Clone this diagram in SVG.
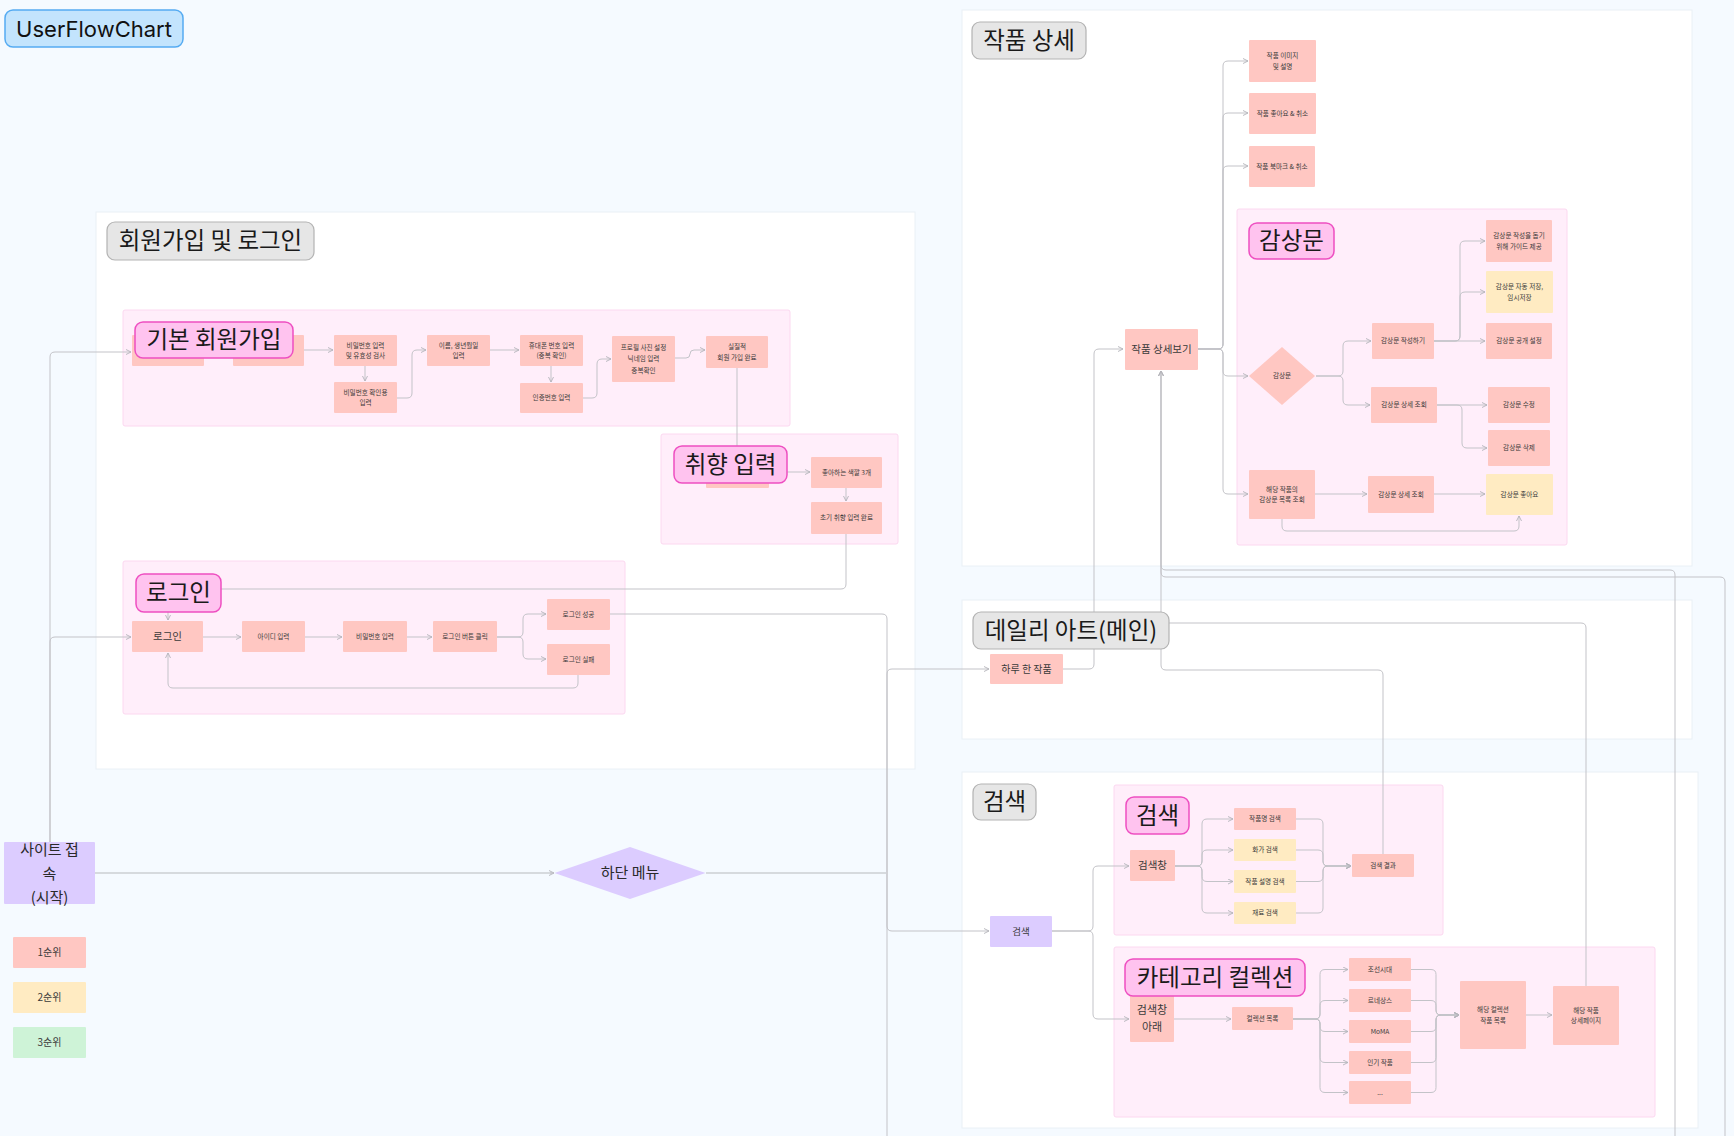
<svg xmlns="http://www.w3.org/2000/svg" width="1734" height="1136" viewBox="0 0 1734 1136">
<defs>
<style>
.bg{fill:#f5faff}
.panel{fill:#ffffff;stroke:#eaf0f6;stroke-width:1}
.sub{fill:#ffeefa;stroke:#fcd8f0;stroke-width:1}
.tb{fill:#e6e6e6;stroke:#b3b3b3;stroke-width:1.2}
.pb{fill:#ffc3ef;stroke:#ee4fc1;stroke-width:1.5}
.ub{fill:#c3e4fd;stroke:#55abf2;stroke-width:1.5}
.p1{fill:#ffc7c2}
.p2{fill:#ffebc2}
.p3{fill:#cef3d7}
.pu{fill:#dcccff}
text{font-family:"Noto Sans CJK KR","Noto Sans",sans-serif;fill:#3a3a3a;text-anchor:middle}
.s{font-size:6.6px}
.m{font-size:10.5px}
.l{font-size:15px;fill:#2a2a2a}
.h{font-size:23.5px;fill:#1a1a1a}
.c{fill:none;stroke:#c3c3c8;stroke-width:1;marker-end:url(#ar)}
.cn{fill:none;stroke:#c3c3c8;stroke-width:1}
.ck{fill:none;stroke:#d6dade;stroke-width:2}
</style>
<marker id="ar" viewBox="0 0 6 6" refX="5.5" refY="3" markerWidth="6" markerHeight="6" markerUnits="userSpaceOnUse" orient="auto"><path d="M0.5,0.5 L5.5,3 L0.5,5.5" fill="none" stroke="#b3b3b9" stroke-width="0.9"/></marker>
</defs>
<rect class="bg" x="0" y="0" width="1734" height="1136"/>

<g id="panels">
<rect class="panel" x="96" y="212" width="819" height="557"/>
<rect class="panel" x="962" y="10" width="730" height="556"/>
<rect class="panel" x="962" y="600" width="730" height="139"/>
<rect class="panel" x="962" y="772" width="736" height="356"/>
<rect class="sub" x="123" y="310" width="667" height="116" rx="2"/>
<rect class="sub" x="661" y="434" width="237" height="110" rx="2"/>
<rect class="sub" x="123" y="561" width="502" height="153" rx="2"/>
<rect class="sub" x="1237" y="209" width="330" height="336" rx="2"/>
<rect class="sub" x="1114" y="785" width="329" height="150" rx="2"/>
<rect class="sub" x="1114" y="947" width="541" height="170" rx="2"/>
</g>

<g id="connectors">
<path class="c" d="M50,842 V357 Q50,352 55,352 H131"/>
<path class="c" d="M50,842 V642 Q50,637 55,637 H131"/>
<path class="ck" d="M95,873 H552"/>
<path class="c" d="M550,873 H554"/>
<path class="ck" d="M706,873 H886"/>
<path class="c" d="M887,873 V674 Q887,669 892,669 H989"/>
<path class="c" d="M887,873 V926 Q887,931 892,931 H989"/>
<path class="cn" d="M610,614 H882 Q887,614 887,619 V1136"/>
<path class="c" d="M204,350 H232"/>
<path class="c" d="M304,350 H333"/>
<path class="c" d="M365,366 V381"/>
<path class="c" d="M397,398 H407 Q412,398 412,393 V355 Q412,350 417,350 H426"/>
<path class="c" d="M490,350 H519"/>
<path class="c" d="M551,366 V382"/>
<path class="c" d="M583,398 H592 Q597,398 597,393 V364 Q597,359 602,359 H611"/>
<path class="c" d="M675,358 H686 Q690,358 690,354 Q690,350 694,350 H705"/>
<path class="c" d="M737,368 V455"/>
<path class="c" d="M769,472 H810"/>
<path class="c" d="M846,488 V501"/>
<path class="c" d="M846,534 V584 Q846,589 841,589 H173 Q168,589 168,594 V620"/>
<path class="c" d="M203,637 H241"/>
<path class="c" d="M305,637 H342"/>
<path class="c" d="M407,637 H432"/>
<path class="c" d="M497,637 H518 Q523,637 523,632 V619 Q523,614 528,614 H546"/>
<path class="c" d="M497,637 H518 Q523,637 523,642 V654 Q523,659 528,659 H546"/>
<path class="c" d="M578,675 V683 Q578,688 573,688 H173 Q168,688 168,683 V653"/>
<path class="c" d="M1063,669 H1089 Q1094,669 1094,664 V354 Q1094,349 1099,349 H1123"/>
<path class="c" d="M1198,349 H1218 Q1223,349 1223,344 V66 Q1223,61 1228,61 H1248"/>
<path class="c" d="M1198,349 H1218 Q1223,349 1223,344 V118 Q1223,113 1228,113 H1248"/>
<path class="c" d="M1198,349 H1218 Q1223,349 1223,344 V171 Q1223,166 1228,166 H1248"/>
<path class="c" d="M1198,349 H1218 Q1223,349 1223,354 V371 Q1223,376 1228,376 H1248"/>
<path class="c" d="M1198,349 H1218 Q1223,349 1223,354 V489 Q1223,494 1228,494 H1248"/>
<path class="c" d="M1316,376 H1338 Q1343,376 1343,371 V346 Q1343,341 1348,341 H1371"/>
<path class="c" d="M1316,376 H1338 Q1343,376 1343,381 V400 Q1343,405 1348,405 H1370"/>
<path class="c" d="M1434,341 H1455 Q1460,341 1460,336 V246 Q1460,241 1465,241 H1485"/>
<path class="c" d="M1434,341 H1455 Q1460,341 1460,336 V297 Q1460,292 1465,292 H1485"/>
<path class="c" d="M1434,341 H1485"/>
<path class="c" d="M1437,405 H1487"/>
<path class="c" d="M1437,405 H1457 Q1462,405 1462,410 V443 Q1462,448 1467,448 H1487"/>
<path class="c" d="M1315,494 H1367"/>
<path class="c" d="M1434,494 H1485"/>
<path class="c" d="M1282,519 V526 Q1282,531 1287,531 H1514 Q1519,531 1519,526 V516"/>
<path class="c" d="M1052,931 H1088 Q1093,931 1093,926 V871 Q1093,866 1098,866 H1129"/>
<path class="c" d="M1052,931 H1088 Q1093,931 1093,936 V1014 Q1093,1019 1098,1019 H1129"/>
<path class="c" d="M1175,866 H1197 Q1202,866 1202,861 V824 Q1202,819 1207,819 H1233"/>
<path class="c" d="M1175,866 H1197 Q1202,866 1202,861 V855 Q1202,850 1207,850 H1233"/>
<path class="c" d="M1175,866 H1197 Q1202,866 1202,871 V876.5 Q1202,881.5 1207,881.5 H1233"/>
<path class="c" d="M1175,866 H1197 Q1202,866 1202,871 V908 Q1202,913 1207,913 H1233"/>
<path class="c" d="M1296,819 H1318 Q1323,819 1323,824 V861 Q1323,866 1328,866 H1351"/>
<path class="c" d="M1296,850 H1318 Q1323,850 1323,855 V861 Q1323,866 1328,866 H1351"/>
<path class="c" d="M1296,881.5 H1318 Q1323,881.5 1323,876.5 V871 Q1323,866 1328,866 H1351"/>
<path class="c" d="M1296,913 H1318 Q1323,913 1323,908 V871 Q1323,866 1328,866 H1351"/>
<path class="c" d="M1383,854 V675 Q1383,670 1378,670 H1166 Q1161,670 1161,665 V371"/>
<path class="c" d="M1675,1136 V575 Q1675,570 1670,570 H1166 Q1161,570 1161,565 V371"/>
<path class="c" d="M1725,1136 V582 Q1725,577 1720,577 H1166 Q1161,577 1161,572 V371"/>
<path class="cn" d="M1586,986 V628 Q1586,623 1581,623 H1150"/>
<path class="c" d="M1174,1019 H1231"/>
<path class="c" d="M1293,1019 H1315 Q1320,1019 1320,1014 V974.5 Q1320,969.5 1325,969.5 H1348"/>
<path class="c" d="M1293,1019 H1315 Q1320,1019 1320,1014 V1005.5 Q1320,1000.5 1325,1000.5 H1348"/>
<path class="c" d="M1293,1019 H1315 Q1320,1019 1320,1024 V1026.5 Q1320,1031.5 1325,1031.5 H1348"/>
<path class="c" d="M1293,1019 H1315 Q1320,1019 1320,1024 V1057.5 Q1320,1062.5 1325,1062.5 H1348"/>
<path class="c" d="M1293,1019 H1315 Q1320,1019 1320,1024 V1087.5 Q1320,1092.5 1325,1092.5 H1348"/>
<path class="c" d="M1411,969.5 H1431 Q1436,969.5 1436,974.5 V1010 Q1436,1015 1441,1015 H1459"/>
<path class="c" d="M1411,1000.5 H1431 Q1436,1000.5 1436,1005.5 V1010 Q1436,1015 1441,1015 H1459"/>
<path class="c" d="M1411,1031.5 H1431 Q1436,1031.5 1436,1026.5 V1020 Q1436,1015 1441,1015 H1459"/>
<path class="c" d="M1411,1062.5 H1431 Q1436,1062.5 1436,1057.5 V1020 Q1436,1015 1441,1015 H1459"/>
<path class="c" d="M1411,1092.5 H1431 Q1436,1092.5 1436,1087.5 V1020 Q1436,1015 1441,1015 H1459"/>
<path class="c" d="M1526,1015 H1552"/>
</g>

<g id="n_s1"><rect class="p1" x="132" y="335" width="72" height="31" rx="1"/></g>
<g id="n_s2"><rect class="p1" x="233" y="335" width="71" height="31" rx="1"/></g>
<g id="n_pw"><rect class="p1" x="334" y="335" width="63" height="31" rx="1"/><text class="s" x="365.5" y="347.5">비밀번호 입력<tspan x="365.5" dy="10.5">및 유효성 검사</tspan></text></g>
<g id="n_pwc"><rect class="p1" x="334" y="382" width="63" height="31" rx="1"/><text class="s" x="365.5" y="394.5">비밀번호 확인용<tspan x="365.5" dy="10.5">입력</tspan></text></g>
<g id="n_name"><rect class="p1" x="427" y="335" width="63" height="31" rx="1"/><text class="s" x="458.5" y="347.5">이름, 생년월일<tspan x="458.5" dy="10.5">입력</tspan></text></g>
<g id="n_phone"><rect class="p1" x="520" y="335" width="63" height="31" rx="1"/><text class="s" x="551.5" y="347.5">휴대폰 번호 입력<tspan x="551.5" dy="10.5">(중복 확인)</tspan></text></g>
<g id="n_auth"><rect class="p1" x="520" y="383" width="63" height="30" rx="1"/><text class="s" x="551.5" y="400.3">인증번호 입력</text></g>
<g id="n_prof"><rect class="p1" x="612" y="336" width="63" height="46" rx="1"/><text class="s" x="643.5" y="349.8">프로필 사진 설정<tspan x="643.5" dy="11.5">닉네임 입력</tspan><tspan x="643.5" dy="11.5">중복확인</tspan></text></g>
<g id="n_done"><rect class="p1" x="706" y="336" width="62" height="32" rx="1"/><text class="s" x="737" y="349">실질적<tspan x="737" dy="10.5">회원 가입 완료</tspan></text></g>
<g id="n_t0"><rect class="p1" x="706" y="456" width="63" height="32" rx="1"/></g>
<g id="n_color"><rect class="p1" x="811" y="457" width="71" height="31" rx="1"/><text class="s" x="846.5" y="474.8">좋아하는 색깔 3개</text></g>
<g id="n_tdone"><rect class="p1" x="811" y="502" width="71" height="32" rx="1"/><text class="s" x="846.5" y="520.3">초기 취향 입력 완료</text></g>
<g id="n_login"><rect class="p1" x="132" y="621" width="71" height="31" rx="1"/><text class="m" x="167.5" y="640.3">로그인</text></g>
<g id="n_id"><rect class="p1" x="242" y="621" width="63" height="31" rx="1"/><text class="s" x="273.5" y="638.8">아이디 입력</text></g>
<g id="n_lpw"><rect class="p1" x="343" y="621" width="64" height="31" rx="1"/><text class="s" x="375" y="638.8">비밀번호 입력</text></g>
<g id="n_btn"><rect class="p1" x="433" y="621" width="64" height="31" rx="1"/><text class="s" x="465" y="638.8">로그인 버튼 클릭</text></g>
<g id="n_ok"><rect class="p1" x="547" y="599" width="63" height="31" rx="1"/><text class="s" x="578.5" y="616.8">로그인 성공</text></g>
<g id="n_fail"><rect class="p1" x="547" y="644" width="63" height="31" rx="1"/><text class="s" x="578.5" y="661.8">로그인 실패</text></g>

<g id="n_start"><rect class="pu" x="4" y="842" width="91" height="62" rx="1"/><text class="l" x="49.5" y="855.4">사이트 접<tspan x="49.5" dy="24">속</tspan><tspan x="49.5" dy="24">(시작)</tspan></text></g>
<g id="n_menu"><polygon class="pu" points="554.5,873 630,847 705.5,873 630,899"/><text class="l" x="630" y="878.4">하단 메뉴</text></g>
<g id="legend1"><rect class="p1" x="13" y="937" width="73" height="31" rx="1"/><text x="49.5" y="956.1" font-size="10">1순위</text></g>
<g id="legend2"><rect class="p2" x="13" y="982" width="73" height="31" rx="1"/><text x="49.5" y="1001.1" font-size="10">2순위</text></g>
<g id="legend3"><rect class="p3" x="13" y="1027" width="73" height="31" rx="1"/><text x="49.5" y="1046.1" font-size="10">3순위</text></g>

<g id="n_daily"><rect class="p1" x="990" y="654" width="73" height="30" rx="1"/><text x="1026.5" y="672.6" font-size="10">하루 한 작품</text></g>
<g id="n_search"><rect class="pu" x="990" y="916" width="62" height="31" rx="1"/><text x="1021" y="934.9" font-size="9.5">검색</text></g>
<g id="n_detail"><rect class="p1" x="1125" y="329" width="73" height="41" rx="1"/><text class="m" x="1161.5" y="353.3">작품 상세보기</text></g>
<g id="n_img"><rect class="p1" x="1249" y="40" width="67" height="42" rx="1"/><text class="s" x="1282.5" y="58">작품 이미지<tspan x="1282.5" dy="10.5">및 설명</tspan></text></g>
<g id="n_like"><rect class="p1" x="1249" y="93" width="67" height="41" rx="1"/><text class="s" x="1282.5" y="115.8">작품 좋아요 &amp; 취소</text></g>
<g id="n_bm"><rect class="p1" x="1249" y="146" width="66" height="41" rx="1"/><text class="s" x="1282" y="168.8">작품 북마크 &amp; 취소</text></g>
<g id="n_rdia"><polygon class="p1" points="1249,376 1282,347 1315,376 1282,405"/><text class="s" x="1282" y="378.3">감상문</text></g>
<g id="n_write"><rect class="p1" x="1372" y="323" width="62" height="36" rx="1"/><text class="s" x="1403" y="343.3">감상문 작성하기</text></g>
<g id="n_view"><rect class="p1" x="1371" y="387" width="66" height="36" rx="1"/><text class="s" x="1404" y="407.3">감상문 상세 조회</text></g>
<g id="n_guide"><rect class="p1" x="1486" y="220" width="66" height="42" rx="1"/><text class="s" x="1519" y="238">감상문 작성을 돕기<tspan x="1519" dy="10.5">위해 가이드 제공</tspan></text></g>
<g id="n_auto"><rect class="p2" x="1486" y="271" width="67" height="42" rx="1"/><text class="s" x="1519.5" y="289">감상문 자동 저장,<tspan x="1519.5" dy="10.5">임시저장</tspan></text></g>
<g id="n_pub"><rect class="p1" x="1486" y="323" width="66" height="36" rx="1"/><text class="s" x="1519" y="343.3">감상문 공개 설정</text></g>
<g id="n_edit"><rect class="p1" x="1488" y="387" width="62" height="36" rx="1"/><text class="s" x="1519" y="407.3">감상문 수정</text></g>
<g id="n_del"><rect class="p1" x="1488" y="430" width="62" height="36" rx="1"/><text class="s" x="1519" y="450.3">감상문 삭제</text></g>
<g id="n_list"><rect class="p1" x="1249" y="470" width="66" height="49" rx="1"/><text class="s" x="1282" y="491.5">해당 작품의<tspan x="1282" dy="10.5">감상문 목록 조회</tspan></text></g>
<g id="n_view2"><rect class="p1" x="1368" y="476" width="66" height="37" rx="1"/><text class="s" x="1401" y="496.8">감상문 상세 조회</text></g>
<g id="n_rlike"><rect class="p2" x="1486" y="474" width="67" height="41" rx="1"/><text class="s" x="1519.5" y="496.8">감상문 좋아요</text></g>

<g id="n_sbox"><rect class="p1" x="1130" y="850" width="45" height="31" rx="1"/><text class="m" x="1152.5" y="869.3">검색창</text></g>
<g id="n_stitle"><rect class="p1" x="1234" y="808" width="62" height="22" rx="1"/><text class="s" x="1265" y="821.3">작품명 검색</text></g>
<g id="n_sartist"><rect class="p2" x="1234" y="839" width="62" height="22" rx="1"/><text class="s" x="1265" y="852.3">화가 검색</text></g>
<g id="n_sdesc"><rect class="p2" x="1234" y="870" width="62" height="23" rx="1"/><text class="s" x="1265" y="883.8">작품 설명 검색</text></g>
<g id="n_smat"><rect class="p2" x="1234" y="902" width="62" height="22" rx="1"/><text class="s" x="1265" y="915.3">재료 검색</text></g>
<g id="n_result"><rect class="p1" x="1352" y="854" width="62" height="23" rx="1"/><text class="s" x="1383" y="867.8">검색 결과</text></g>
<g id="n_under"><rect class="p1" x="1130" y="995" width="44" height="47" rx="1"/><text x="1152" y="1014" font-size="11">검색창<tspan x="1152" dy="17">아래</tspan></text></g>
<g id="n_clist"><rect class="p1" x="1232" y="1007" width="61" height="23" rx="1"/><text class="s" x="1262.5" y="1020.8">컬렉션 목록</text></g>
<g id="n_c1"><rect class="p1" x="1349" y="958" width="62" height="23" rx="1"/><text class="s" x="1380" y="971.8">조선시대</text></g>
<g id="n_c2"><rect class="p1" x="1349" y="989" width="62" height="23" rx="1"/><text class="s" x="1380" y="1002.8">르네상스</text></g>
<g id="n_c3"><rect class="p1" x="1349" y="1020" width="62" height="23" rx="1"/><text class="s" x="1380" y="1033.8">MoMA</text></g>
<g id="n_c4"><rect class="p1" x="1349" y="1051" width="62" height="23" rx="1"/><text class="s" x="1380" y="1064.8">인기 작품</text></g>
<g id="n_c5"><rect class="p1" x="1349" y="1081" width="62" height="23" rx="1"/><text class="s" x="1380" y="1094.8">...</text></g>
<g id="n_ccol"><rect class="p1" x="1460" y="981" width="66" height="68" rx="1"/><text class="s" x="1493" y="1012">해당 컬렉션<tspan x="1493" dy="10.5">작품 목록</tspan></text></g>
<g id="n_cdet"><rect class="p1" x="1553" y="986" width="66" height="59" rx="1"/><text class="s" x="1586" y="1012.5">해당 작품<tspan x="1586" dy="10.5">상세페이지</tspan></text></g>

<g id="badges">
<g id="b_title"><rect class="ub" x="5" y="10" width="178" height="37" rx="8"/><text x="94" y="36.5" font-size="22px" style="font-family:Inter,'Liberation Sans',sans-serif;fill:#111">UserFlowChart</text></g>
<g id="b_signup"><rect class="tb" x="107" y="222" width="207" height="38" rx="8"/><text class="h" x="210.5" y="249.4">회원가입 및 로그인</text></g>
<g id="b_detail"><rect class="tb" x="972" y="22" width="114" height="37" rx="8"/><text class="h" x="1029" y="48.9">작품 상세</text></g>
<g id="b_daily"><rect class="tb" x="973" y="612" width="196" height="37" rx="8"/><text class="h" x="1071" y="638.9">데일리 아트(메인)</text></g>
<g id="b_searchp"><rect class="tb" x="973" y="784" width="63" height="36" rx="8"/><text class="h" x="1004.5" y="810.4">검색</text></g>
<g id="b_basic"><rect class="pb" x="135" y="322" width="158" height="36" rx="8"/><text class="h" x="214" y="348.4">기본 회원가입</text></g>
<g id="b_taste"><rect class="pb" x="674" y="446" width="113" height="37" rx="8"/><text class="h" x="730.5" y="472.9">취향 입력</text></g>
<g id="b_login"><rect class="pb" x="136" y="574" width="85" height="38" rx="8"/><text class="h" x="178.5" y="601.4">로그인</text></g>
<g id="b_review"><rect class="pb" x="1249" y="223" width="85" height="36" rx="8"/><text class="h" x="1291.5" y="249.4">감상문</text></g>
<g id="b_search"><rect class="pb" x="1126" y="797" width="63" height="37" rx="8"/><text class="h" x="1157.5" y="823.9">검색</text></g>
<g id="b_cat"><rect class="pb" x="1125" y="959" width="180" height="37" rx="8"/><text class="h" x="1215" y="985.9">카테고리 컬렉션</text></g>
</g>
</svg>
